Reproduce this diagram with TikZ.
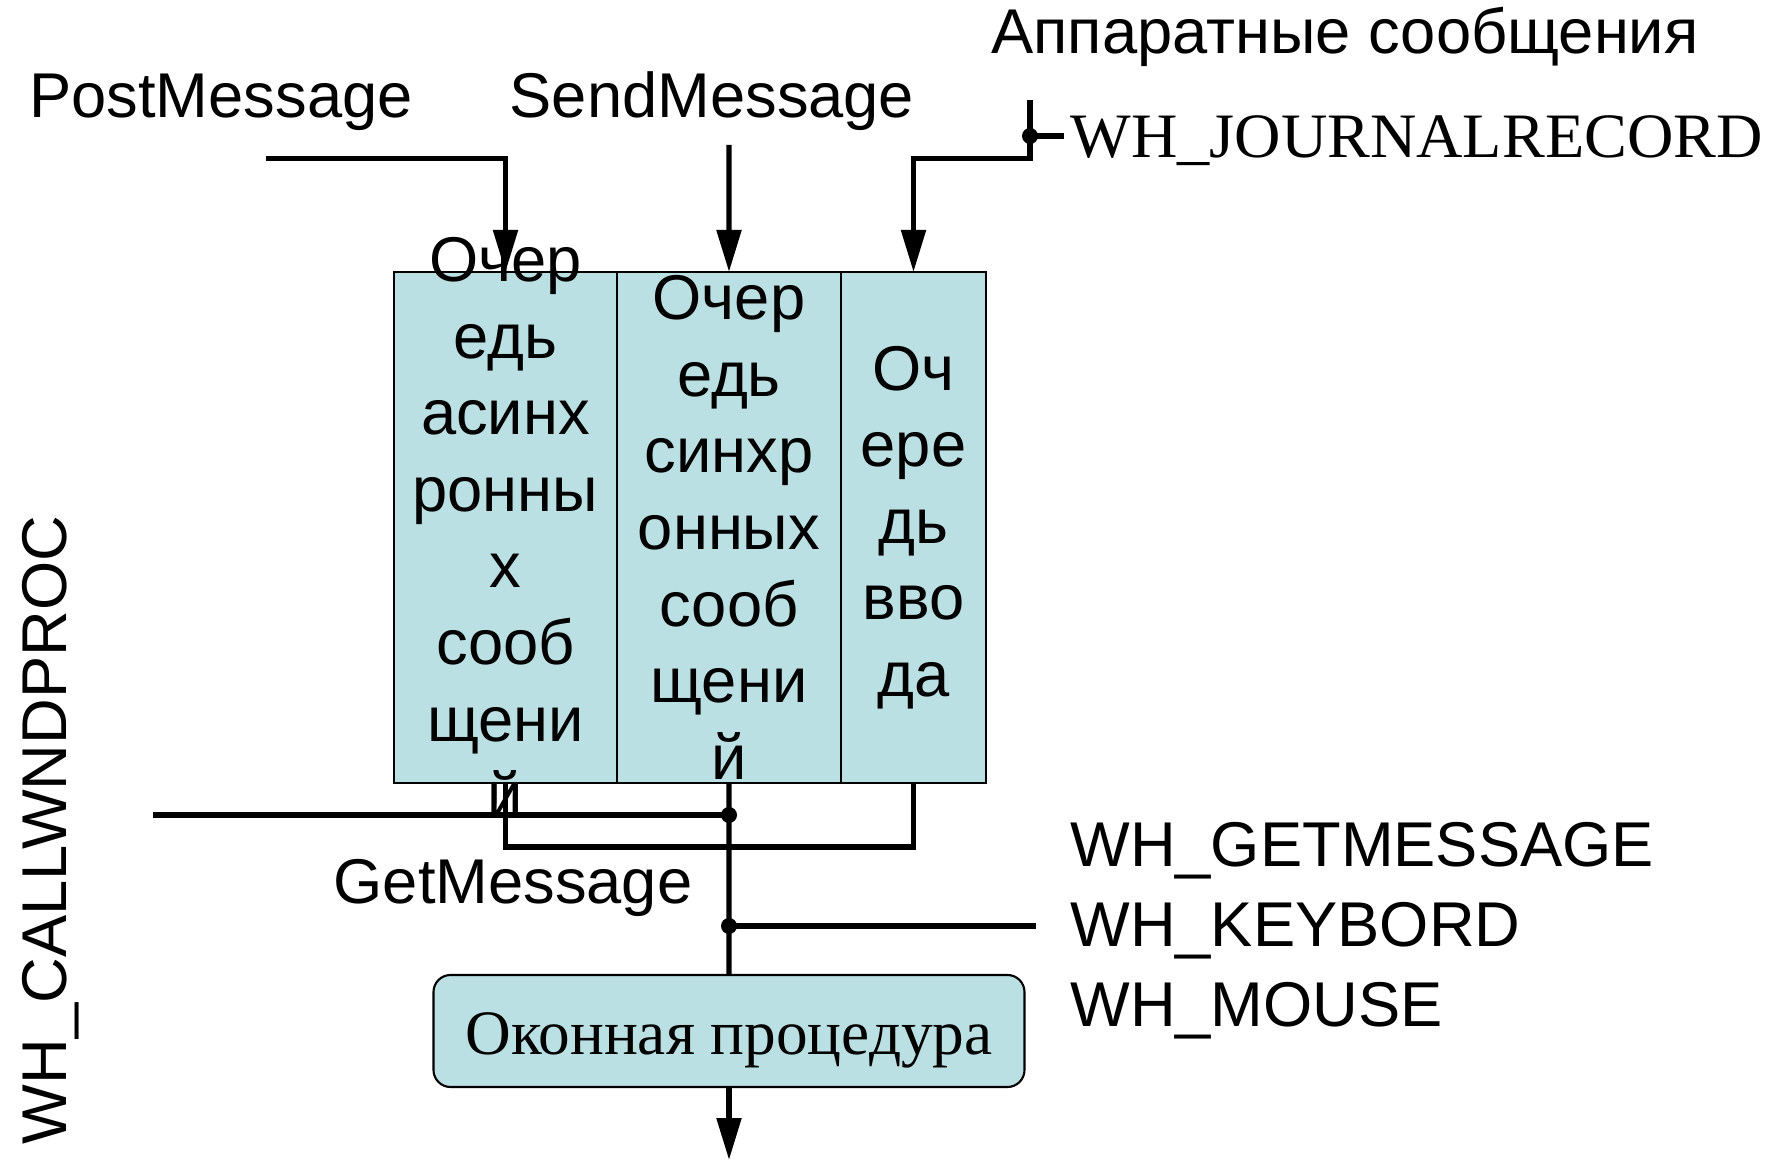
\documentclass[tikz,border=0pt]{standalone}
\usepackage{fontspec}
\setmainfont{Liberation Sans}
\newfontfamily\serifrm{Liberation Serif}
\usetikzlibrary{arrows.meta}

\definecolor{queuefill}{RGB}{187,224,227}

\begin{document}
\begin{tikzpicture}[
    font=\fontsize{18}{21.8}\selectfont,
    qcol/.style={draw, fill=queuefill, line width=0.6pt, minimum height=5.11cm, anchor=north west, inner sep=0, outer sep=0},
    qtext/.style={align=center, inner sep=0},
    wire/.style={line width=1.5pt},
    arr/.style={-{Triangle[width=0.24cm,length=0.42cm]}},
    dot/.style={circle, fill, inner sep=0, minimum size=0.16cm}
]
    \useasboundingbox (0,0) rectangle (17.75,-11.61);

    % Queues
    \node[qcol, minimum width=2.23cm] (qa) at (3.94,-2.72) {};
    \node[qcol, minimum width=2.24cm] (qs) at (qa.north east) {};
    \node[qcol, minimum width=1.45cm] (qi) at (qs.north east) {};
    \node[draw, fill=queuefill, line width=0.6pt, rounded corners=0.17cm, minimum width=5.91cm, minimum height=1.12cm,
          text height=13.3pt, text depth=0pt, font=\serifrm\fontsize{18}{21.8}\selectfont] (proc) at (7.29,-10.31) {Оконная процедура};

    % Labels
    \node[anchor=base] (post) at (2.21,-1.18) {PostMessage};
    \node[anchor=base] (send) at (7.12,-1.18) {SendMessage};
    \node[anchor=base] (hard) at (13.45,-0.54) {Аппаратные сообщения};
    \node[anchor=base west, font=\serifrm\fontsize{18}{21.8}\selectfont, xscale=1.015] (jrec) at (10.58,-1.58) {WH\_JOURNALRECORD};
    \node[anchor=base] (get) at (5.13,-9.03) {GetMessage};
    \node[anchor=base west] (hgm) at (10.58,-8.66) {WH\_GETMESSAGE};
    \node[anchor=base west] (hkb) at (10.58,-9.46) {WH\_KEYBORD};
    \node[anchor=base west] (hms) at (10.58,-10.26) {WH\_MOUSE};
    \node[anchor=base, rotate=90] (cwp) at (0.66,-8.30) {WH\_CALLWNDPROC};

    % Lines in
    \coordinate (pm) at (2.66,-1.585);
    \coordinate (sm) at (7.29,-1.45);
    \coordinate (hw) at (10.30,-1.00);
    \coordinate (hj) at (10.30,-1.36);
    \draw[wire, arr] (pm) -| (qa.north);
    \draw[wire, arr] (sm) -- (qs.north);
    \draw[wire, arr] (hw) -- (10.30,-1.585) -| (qi.north);
    \draw[wire] (hj) -- (10.64,-1.36);
    \node[dot] (d0) at (hj) {};

    % Lines out
    \coordinate (cw) at (1.53,-8.15);
    \coordinate (kb) at (10.36,-9.26);
    \coordinate (out) at (7.29,-11.60);
    \draw[wire] (qa.south) -- ++(0,-0.64) -| (qi.south);
    \draw[wire] (qs.south) -- (proc.north);
    \draw[wire] (cw) -- (cw -| qs.south) node[dot] (d1) {};
    \draw[wire] (kb) -- (kb -| qs.south) node[dot] (d2) {};
    \draw[wire, arr] (proc.south) -- (out);

    % Queue texts
    \node[qtext] (ta) at (qa.center) {Очер\\едь\\асинх\\ронны\\х\\сооб\\щени\\й};
    \node[qtext] (ts) at (qs.center) {Очер\\едь\\синхр\\онных\\сооб\\щени\\й};
    \node[qtext] (ti) at (qi.center) {Оч\\ере\\дь\\вво\\да};
\end{tikzpicture}
\end{document}
